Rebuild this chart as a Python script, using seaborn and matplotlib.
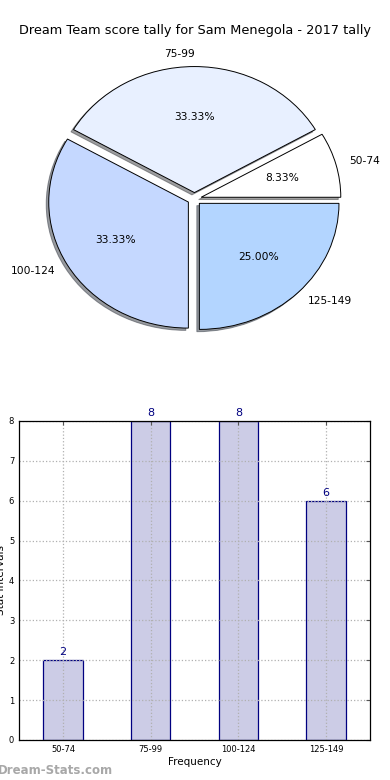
import matplotlib
matplotlib.use("Agg")
import matplotlib.pyplot as plt
import seaborn as sns

# data
intervals = ['50-74', '75-99', '100-124', '125-149']
counts = [2, 8, 8, 6]
pie_colors = ['#ffffff', '#e8f0ff', '#c5d8ff', '#b3d5ff']

sns.set_style("white")
plt.rcParams['font.family'] = ['DejaVu Sans']
plt.rcParams['text.color'] = 'black'
plt.rcParams['axes.labelcolor'] = 'black'
plt.rcParams['xtick.color'] = 'black'
plt.rcParams['ytick.color'] = 'black'

fig = plt.figure(figsize=(3.9, 7.8), dpi=100)

# pie chart
ax_pie = fig.add_axes([0.051, 0.543, 0.895, 0.404])
ax_pie.pie(counts, labels=intervals, colors=pie_colors, autopct='%.2f%%',
           explode=[0.05] * len(counts),
           shadow={'ox': -0.013, 'oy': -0.013, 'shade': 0.75},
           startangle=0,
           wedgeprops={'edgecolor': 'black', 'linewidth': 0.7},
           textprops={'fontsize': 7.7})
ax_pie.set_aspect('auto')
ax_pie.set_xlim(-1.25, 1.25)
ax_pie.set_ylim(-1.25, 1.25)
fig.text(0.5, 0.961, 'Dream Team score tally for Sam Menegola - 2017 tally',
         ha='center', va='center', fontsize=9.3)

# bar chart
ax_bar = fig.add_axes([0.049, 0.0513, 0.9, 0.409])
sns.barplot(x=intervals, y=counts, color='#ccccE6', edgecolor='navy',
            linewidth=0.9, saturation=1, width=0.45, ax=ax_bar)
ax_bar.set_xlim(-0.5, 3.5)
ax_bar.set_ylim(0, 8)
ax_bar.set_yticks(range(0, 9))
ax_bar.grid(True, linestyle=':', color='#b0b0b0', linewidth=0.9)
ax_bar.set_axisbelow(False)
for s in ax_bar.spines.values():
    s.set_color('black')
    s.set_linewidth(0.9)
    s.set_zorder(5)
ax_bar.tick_params(axis='both', direction='in', labelsize=6, length=3,
                   top=True, right=True, color='#555555')
for i, v in enumerate(counts):
    ax_bar.text(i, v + 0.08, str(v), ha='center', va='bottom',
                color='navy', fontsize=8)
ax_bar.set_xlabel('Frequency', fontsize=7.5, labelpad=2)
ax_bar.set_ylabel('Stat Intervals', fontsize=7.5, labelpad=2)

fig.text(-0.005, 0.012, 'Dream-Stats.com', color='#a8a8a8',
         fontsize=8.5, fontweight='bold', ha='left', va='center')

fig.savefig('out.png', dpi=100)
